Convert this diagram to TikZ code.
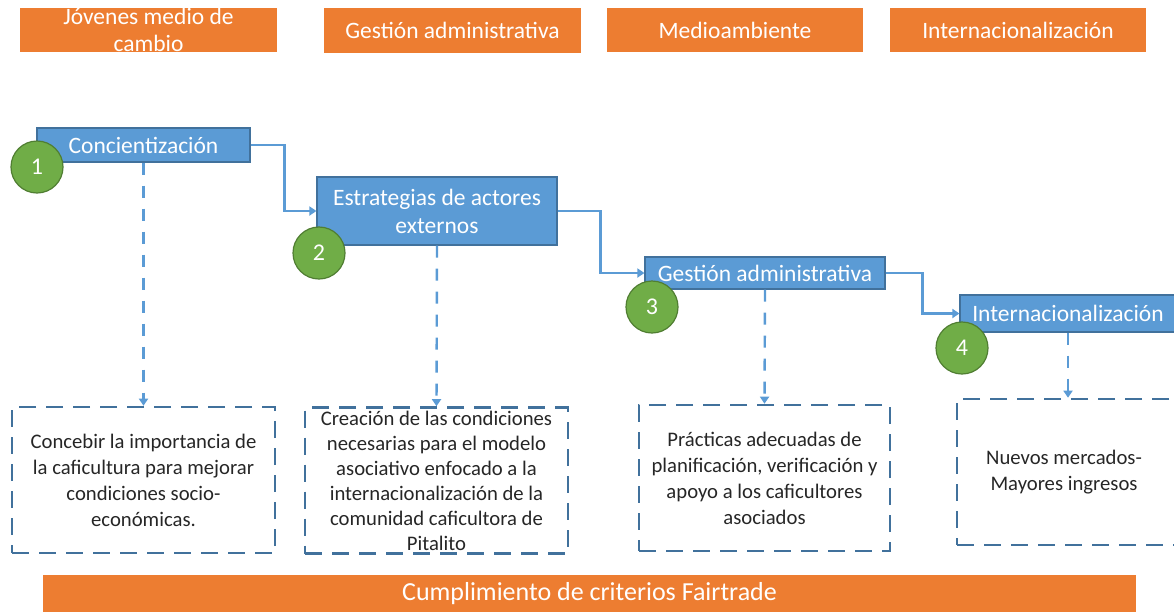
\documentclass[tikz,border=0pt]{standalone}
\usepackage{fontspec}
\setmainfont{Carlito}
\usetikzlibrary{arrows.meta}
\definecolor{orng}{HTML}{ED7D31}
\definecolor{blu}{HTML}{5B9BD5}
\definecolor{bludark}{HTML}{41719C}
\definecolor{grn}{HTML}{70AD47}
\definecolor{grndark}{HTML}{507E32}
\definecolor{txt}{HTML}{262626}
\tikzset{
  orangebox/.style={rectangle, fill=orng, text=white, inner sep=0pt, align=center,
    font=\fontsize{23.5}{27}\selectfont},
  bluebox/.style={rectangle, fill=blu, draw=bludark, line width=1.2pt, text=white, inner sep=0pt, align=center,
    font=\fontsize{23.5}{28}\selectfont},
  numcirc/.style={circle, fill=grn, draw=grndark, line width=1.2pt, minimum size=52pt, inner sep=0pt, text=white,
    font=\fontsize{24}{28}\selectfont},
  dbox/.style={rectangle, draw=bludark, line width=2.6pt, dash pattern=on 17pt off 10pt, text=txt, inner sep=0pt, align=center,
    font=\fontsize{20.7}{26}\selectfont},
  flow/.style={draw=blu, line width=2.4pt, -{Triangle[width=9pt,length=7pt]}},
  dflow/.style={draw=blu, line width=2.4pt, dash pattern=on 12pt off 11pt, -{Triangle[width=9pt,length=7pt]}},
}
\begin{document}
\begin{tikzpicture}[x=1pt,y=-1pt]
\useasboundingbox (0,0) rectangle (1174,611);
% top bar
\node[orangebox, minimum width=257pt, minimum height=44pt] (t1) at (148.5,29.5) {Jóvenes medio de\\cambio};
\node[orangebox, minimum width=257pt, minimum height=45pt] (t2) at (452.5,30.5) {Gestión administrativa};
\node[orangebox, minimum width=256pt, minimum height=44pt] (t3) at (735,30) {Medioambiente};
\node[orangebox, minimum width=256pt, minimum height=44pt] (t4) at (1018,30) {Internacionalización};
% blue steps
\node[bluebox, minimum width=213pt, minimum height=34pt] (c1) at (143.5,145) {Concientización};
\node[bluebox, minimum width=240pt, minimum height=68pt] (c2) at (437,211) {Estrategias de actores\\externos};
\node[bluebox, minimum width=240pt, minimum height=32pt] (c3) at (765,273) {Gestión administrativa};
\node[bluebox, minimum width=216pt, minimum height=37pt] (c4) at (1068,313.5) {Internacionalización};
% circles
\node[numcirc] (n1) at (37,167) {1};
\node[numcirc] (n2) at (319,253) {2};
\node[numcirc] (n3) at (652,307) {3};
\node[numcirc] (n4) at (962,348) {4};
% flow connectors
\draw[flow] (c1.east) -- ([xshift=34pt]c1.east) |- (c2.west);
\draw[flow] (c2.east) -- ([xshift=43pt]c2.east) |- (c3.west);
\draw[flow] (c3.east) -- ([xshift=37pt]c3.east) |- (c4.west);
% dashed boxes
\node[dbox, minimum width=263pt, minimum height=146pt] (d1) at (143.5,480) {Concebir la importancia de\\la caficultura para mejorar\\condiciones socio-\\económicas.};
\node[dbox, minimum width=263pt, minimum height=146pt, font=\fontsize{20.7}{25}\selectfont] (d2) at (436.5,480.5) {Creación de las condiciones\\necesarias para el modelo\\asociativo enfocado a la\\internacionalización de la\\comunidad caficultora de\\Pitalito};
\node[dbox, minimum width=251pt, minimum height=146pt] (d3) at (764.5,478) {Prácticas adecuadas de\\planificación, verificación y\\apoyo a los caficultores\\asociados};
\node[dbox, minimum width=222pt, minimum height=146pt] (d4) at (1068,472) {\hspace*{-8pt}Nuevos mercados-\\\hspace*{-8pt}Mayores ingresos};
% dashed stems
\draw[dflow] (c1.south) -- (d1.north);
\draw[dflow] (c2.south) -- (d2.north);
\draw[dflow] (c3.south) -- (d3.north);
\draw[dflow] (c4.south) -- (d4.north);
% bottom bar
\node[orangebox, minimum width=1093pt, minimum height=38pt, font=\fontsize{26}{30}\selectfont] (b) at (589.5,594) {Cumplimiento de criterios Fairtrade};
\end{tikzpicture}
\end{document}
